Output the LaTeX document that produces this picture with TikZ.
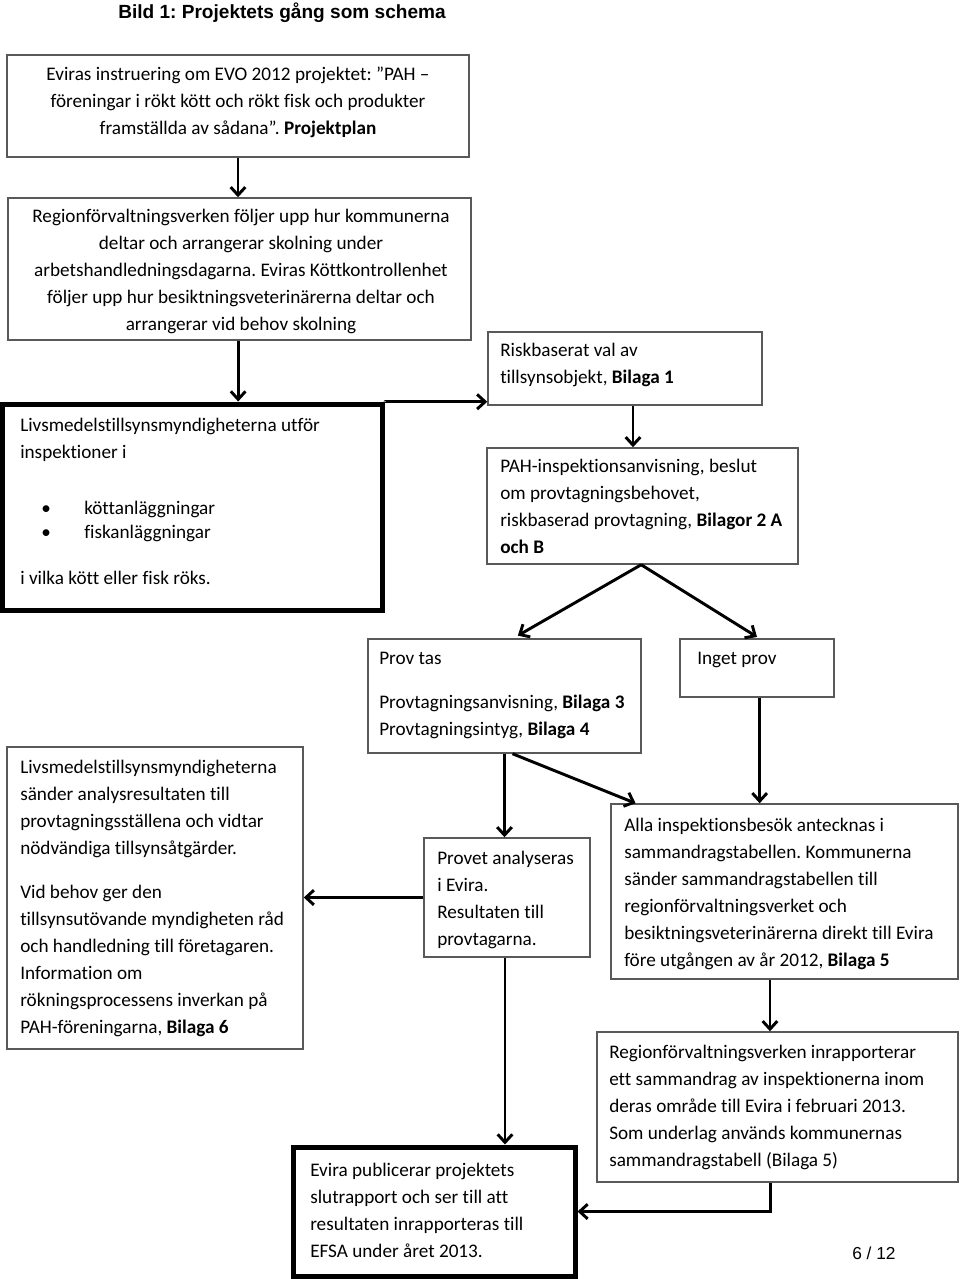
\documentclass[tikz,border=0pt]{standalone}
\usepackage{fontspec}
\setmainfont{Carlito}[Ligatures=NoCommon]
\newfontfamily\arialf{Liberation Sans}
\usetikzlibrary{arrows.meta,fit}
\frenchspacing
\begin{document}
\begin{tikzpicture}[x=0.75pt,y=-0.75pt,
  thinbox/.style={draw=black!65, line width=1.1pt, inner sep=0pt},
  thickbox/.style={draw=black, line width=3.75pt, inner sep=0pt},
  arr/.style={draw=black, line width=2.2pt, -{Straight Barb[length=6pt,width=11pt,line width=2.2pt]}},
  txt/.style={anchor=north west, inner sep=0pt, align=left, font=\fontsize{14.4}{20.25}\selectfont},
  txtc/.style={anchor=north, inner sep=0pt, align=center, font=\fontsize{14.4}{20.25}\selectfont}]
\useasboundingbox (0,0) rectangle (960,1279);
\fill[white] (0,0) rectangle (960,1279);

\node[anchor=base west, inner sep=0pt, font=\arialf\bfseries\fontsize{14.3}{16}\selectfont] (title) at (118,18) {Bild 1: Projektets gång som schema};

% boxes
\node[thinbox, fit={(7,55) (469,157)}] (b1) {};
\node[thinbox, fit={(8,198) (471,340)}] (b2) {};
\node[thickbox, fit={(2,404) (382,610)}] (b3) {};
\node[thinbox, fit={(488,332) (762,405)}] (b4) {};
\node[thinbox, fit={(487,448) (798,564)}] (b5) {};
\node[thinbox, fit={(368,639) (641,753)}] (prov) {};
\node[thinbox, fit={(680,639) (834,697)}] (inget) {};
\node[thinbox, fit={(7,747) (303,1049)}] (livs) {};
\node[thinbox, fit={(424,838) (590,957)}] (provet) {};
\node[thinbox, fit={(611,804) (958,979)}] (alla) {};
\node[thinbox, fit={(597,1032) (958,1182)}] (region) {};
\node[thickbox, fit={(293,1147) (575,1276)}] (evira) {};

% texts
\node[txtc] (b1t) at (238,61) {\strut Eviras instruering om EVO 2012 projektet: ”PAH –\\föreningar i rökt kött och rökt fisk och produkter\\framställda av sådana”. \textbf{Projektplan}};
\node[txtc] (b2t) at (241,203) {\strut Regionförvaltningsverken följer upp hur kommunerna\\deltar och arrangerar skolning under\\arbetshandledningsdagarna. Eviras Köttkontrollenhet\\följer upp hur besiktningsveterinärerna deltar och\\arrangerar vid behov skolning};
\node[txt] (b3t) at (20,412) {\strut Livsmedelstillsynsmyndigheterna utför\\inspektioner i\\[21.75pt]
\hspace*{15.75pt}\makebox[32.25pt][l]{•}köttanläggningar\\[-2.25pt]
\hspace*{15.75pt}\makebox[32.25pt][l]{•}fiskanläggningar\\[14.25pt]
i vilka kött eller fisk röks.};
\node[txt] (b4t) at (500,337) {\strut Riskbaserat val av\\tillsynsobjekt, \textbf{Bilaga 1}};
\node[txt] (b5t) at (500,453) {\strut PAH-inspektionsanvisning, beslut\\om provtagningsbehovet,\\riskbaserad provtagning, \textbf{Bilagor 2 A}\\\textbf{och B}};
\node[txt] (provt) at (379,645) {\strut Prov tas\\[12.75pt]Provtagningsanvisning, \textbf{Bilaga 3}\\Provtagningsintyg, \textbf{Bilaga 4}};
\node[txt] (ingett) at (697,645) {\strut Inget prov};
\node[txt] (livst) at (20,754) {\strut Livsmedelstillsynsmyndigheterna\\sänder analysresultaten till\\provtagningsställena och vidtar\\nödvändiga tillsynsåtgärder.\\[12.75pt]Vid behov ger den\\tillsynsutövande myndigheten råd\\och handledning till företagaren.\\Information om\\rökningsprocessens inverkan på\\PAH-föreningarna, \textbf{Bilaga 6}};
\node[txt] (provett) at (437,845) {\strut Provet analyseras\\i Evira.\\Resultaten till\\provtagarna.};
\node[txt] (allat) at (624,812) {\strut Alla inspektionsbesök antecknas i\\sammandragstabellen. Kommunerna\\sänder sammandragstabellen till\\regionförvaltningsverket och\\besiktningsveterinärerna direkt till Evira\\före utgången av år 2012, \textbf{Bilaga 5}};
\node[txt] (regiont) at (609,1039) {\strut Regionförvaltningsverken inrapporterar\\ett sammandrag av inspektionerna inom\\deras område till Evira i februari 2013.\\Som underlag används kommunernas\\sammandragstabell (Bilaga 5)};
\node[txt] (evirat) at (310,1157) {\strut Evira publicerar projektets\\slutrapport och ser till att\\resultaten inrapporteras till\\EFSA under året 2013.};

\node[anchor=base west, inner sep=0pt, font=\arialf\fontsize{13}{15}\selectfont] (page) at (852,1259) {6 / 12};

% connectors
\draw[arr] (b1.south) -- (b1.south |- b2.north);
\draw[arr] ([xshift=-1pt]b2.south) -- ([xshift=-1pt]b2.south |- b3.north);
\draw[arr] (b3.north east) |- ([yshift=3pt]b4.south west);
\draw[arr] ([xshift=6pt]b4.south) -- ([xshift=6pt]b4.south |- b5.north);
\draw[arr] ([xshift=-1pt]b5.south) -- ([xshift=10pt,yshift=2pt]prov.north);
\draw[arr] ([xshift=-1pt]b5.south) -- ([yshift=1pt]inget.north);
\draw[arr] ([xshift=2pt]inget.south) -- ([xshift=2pt]inget.south |- alla.north);
\draw[arr] (prov.south) -- (prov.south |- provet.north);
\draw[arr] ([xshift=6pt]prov.south) -- ([xshift=19pt]alla.north west);
\draw[arr] (provet.west) -- (provet.west -| livs.east);
\draw[arr] ([xshift=-1.5pt]provet.south) -- ([xshift=-1.5pt]provet.south |- evira.north);
\draw[arr] ([xshift=-10.9pt]alla.south) -- ([xshift=-10.9pt]alla.south |- region.north);
\draw[arr] ([xshift=-5.6pt]region.south) |- (evira.east);
\end{tikzpicture}
\end{document}
